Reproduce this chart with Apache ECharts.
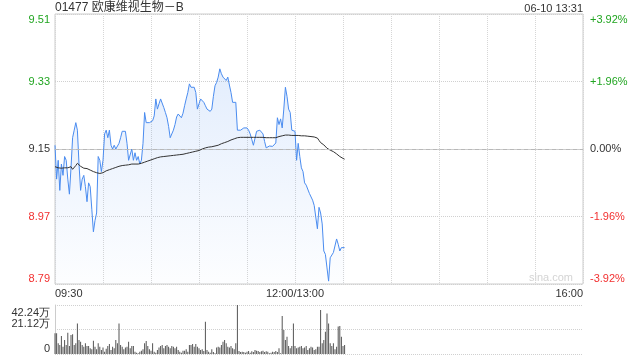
<!DOCTYPE html>
<html>
<head>
<meta charset="utf-8">
<script src="https://cdn.jsdelivr.net/npm/echarts@6/dist/echarts.min.js"></script>
<style>html,body{margin:0;padding:0;background:#fff}#c{width:640px;height:360px}</style>
</head>
<body>
<div id="c"></div>
<script>
const titleText = '01477 欧康维视生物－B';
const dateText = '06-10 13:31';
const prevClose = 9.15;
const priceTicks = ['8.79', '8.97', '9.15', '9.33', '9.51'];
const pctTicks = ['-3.92%', '-1.96%', '0.00%', '+1.96%', '+3.92%'];
const volTicks = ['0', '21.12万', '42.24万'];
const timeTickIdx = [0, 150, 330];
const timeTicks = ['09:30', '12:00/13:00', '16:00'];

const price = [
9.16,9.07,9.12,9.04,9.11,9.08,9.13,9.12,9.07,9.03,
9.10,9.18,9.20,9.22,9.20,9.11,9.04,9.07,9.08,9.05,
9.01,9.06,9.05,8.99,8.93,8.96,8.98,9.13,9.12,9.09,
9.12,9.19,9.20,9.18,9.20,9.16,9.15,9.16,9.15,9.15,
9.165,9.18,9.197,9.20,9.197,9.165,9.12,9.12,9.15,9.12,
9.14,9.12,9.13,9.11,9.12,9.165,9.247,9.22,9.22,9.22,
9.22,9.225,9.238,9.283,9.256,9.27,9.283,9.28,9.26,9.247,
9.233,9.21,9.18,9.185,9.20,9.215,9.235,9.243,9.238,9.233,
9.245,9.265,9.283,9.30,9.323,9.314,9.31,9.314,9.30,9.256,
9.27,9.283,9.287,9.274,9.265,9.256,9.26,9.25,9.256,9.29,
9.318,9.327,9.341,9.363,9.35,9.341,9.345,9.332,9.341,9.32,
9.30,9.274,9.27,9.274,9.20,9.20,9.20,9.20,9.206,9.21,
9.206,9.20,9.19,9.175,9.16,9.157,9.197,9.20,9.20,9.20,
9.19,9.17,9.153,9.157,9.158,9.157,9.157,9.153,9.166,9.233,
9.215,9.23,9.206,9.256,9.314,9.29,9.256,9.247,9.20,9.20,
9.197,9.12,9.165,9.13,9.10,9.09,9.06,9.054,9.05,9.032,
9.03,9.014,9.00,8.995,8.938,8.995,8.98,8.951,8.879,8.87,
8.834,8.799,8.861,8.866,8.875,8.877,8.911,8.897,8.879,8.888,
8.885,8.888
];

const avgPrice = [
9.103,9.100,9.100,9.100,9.099,9.099,9.100,9.100,9.100,9.100,
9.103,9.096,9.098,9.106,9.112,9.108,9.104,9.100,9.099,9.098,
9.098,9.096,9.094,9.092,9.090,9.088,9.087,9.086,9.085,9.086,
9.087,9.090,9.092,9.094,9.095,9.097,9.098,9.100,9.101,9.103,
9.104,9.105,9.106,9.106,9.107,9.108,9.108,9.109,9.110,9.110,
9.110,9.110,9.110,9.110,9.112,9.113,9.115,9.116,9.118,9.119,
9.121,9.122,9.124,9.125,9.127,9.128,9.129,9.130,9.130,9.131,
9.131,9.132,9.132,9.133,9.133,9.134,9.134,9.135,9.135,9.136,
9.136,9.137,9.138,9.139,9.140,9.141,9.142,9.143,9.144,9.145,
9.146,9.148,9.150,9.152,9.153,9.154,9.155,9.155,9.156,9.157,
9.158,9.159,9.160,9.162,9.164,9.166,9.167,9.168,9.170,9.172,
9.174,9.175,9.177,9.179,9.180,9.181,9.181,9.181,9.181,9.181,
9.181,9.181,9.181,9.181,9.181,9.181,9.181,9.181,9.181,9.181,
9.181,9.181,9.180,9.180,9.180,9.180,9.180,9.180,9.180,9.182,
9.183,9.184,9.185,9.186,9.187,9.187,9.187,9.187,9.186,9.186,
9.186,9.186,9.186,9.186,9.185,9.185,9.185,9.185,9.184,9.184,
9.183,9.183,9.182,9.181,9.179,9.173,9.167,9.164,9.161,9.157,
9.152,9.149,9.147,9.145,9.143,9.140,9.137,9.133,9.130,9.127,
9.125,9.123
];

// volume in 万
const volume = [
17.8,17.8,9.2,7.8,15.5,6.3,12.1,7.8,18.4,6.9,
16.4,17.0,7.8,9.2,26.4,12.1,10.6,7.8,6.3,9.2,
6.9,6.9,4.9,4.0,11.5,6.3,4.0,9.2,6.3,3.4,
5.7,2.0,4.6,6.9,8.6,3.4,6.3,4.9,12.1,9.2,
26.4,7.8,6.3,4.0,5.7,6.3,10.6,4.9,6.9,6.9,
2.0,1.1,0.6,2.0,2.9,4.0,9.2,11.2,6.9,4.0,
2.9,9.2,2.0,1.1,3.4,5.7,6.9,7.8,4.9,6.9,
7.8,6.3,4.9,6.9,6.3,4.9,6.3,3.4,2.0,1.1,
2.9,2.9,4.0,2.0,7.8,7.8,8.6,6.3,8.6,6.3,
4.9,3.4,4.0,2.6,27.9,3.4,2.0,1.1,4.0,1.7,
0.6,5.7,6.3,5.7,7.8,10.6,12.1,9.2,6.3,5.7,
6.9,4.9,4.0,9.2,42.24,2.6,1.7,2.0,1.7,1.1,
2.0,2.6,1.1,2.3,1.7,3.4,2.9,2.6,1.7,2.3,
2.9,1.7,2.3,2.0,0.6,1.1,2.0,1.7,2.6,1.7,
4.9,0.6,32.8,20.7,12.1,14.9,6.9,4.9,6.9,26.4,
6.9,4.9,5.7,6.3,6.9,4.9,5.7,6.9,3.4,4.9,
6.3,5.7,3.4,4.0,6.3,6.3,37.9,9.2,12.1,19.2,
35.0,26.4,9.2,6.9,9.2,4.0,6.3,23.6,24.1,14.9,
6.9,7.8
];

// minute categories: 09:30..12:00, 13:01..16:00
const times = [];
function pad(n){return (n<10?'0':'')+n;}
for (let t = 9*60+30; t <= 12*60; t++) times.push(pad(Math.floor(t/60))+':'+pad(t%60));
for (let t = 13*60+1; t <= 16*60; t++) times.push(pad(Math.floor(t/60))+':'+pad(t%60));

const pct = price.map(p => +((p / prevClose - 1) * 100).toFixed(4));
const avgPct = avgPrice.map(p => +((p / prevClose - 1) * 100).toFixed(4));

const PMIN = -3.92, PINT = 1.96;
const VMAX = 42.24, VINT = 21.12;
function tickIndex(v){ return Math.round((v - PMIN) / PINT); }
const styleKeys = ['rB', 'r', 'z', 'g', 'gT'];
const GREEN = '#21a521', RED = '#f23030', DARK = '#333';
const FONT = '"Liberation Sans", Arial, sans-serif';
const rich = {
  gT: {color: GREEN, fontSize: 11, fontFamily: FONT, padding: [11, 0, 0, 0]},
  g: {color: GREEN, fontSize: 11, fontFamily: FONT},
  z: {color: DARK, fontSize: 11, fontFamily: FONT},
  r: {color: RED, fontSize: 11, fontFamily: FONT},
  rB: {color: RED, fontSize: 11, fontFamily: FONT, padding: [0, 0, 11, 0]}
};

const chart = echarts.init(document.getElementById('c'), null, {renderer: 'canvas'});
chart.setOption({
  animation: false,
  backgroundColor: '#fff',
  title: [
    {text: titleText, left: 55, top: 2, padding: 0, textStyle: {fontSize: 12, fontWeight: 'normal', color: '#333', fontFamily: '"Liberation Sans", "Noto Sans CJK SC", sans-serif'}},
    {text: dateText, right: 57, top: 3, padding: 0, textStyle: {fontSize: 11, fontWeight: 'normal', color: '#333', fontFamily: FONT}}
  ],
  graphic: [
    {type: 'text', right: 67, top: 272, silent: true, style: {text: 'sina.com', fill: '#d4d4d4', font: '11px ' + FONT}}
  ],
  grid: [
    {left: 55, right: 57, top: 14, height: 270, show: true, borderColor: '#ccc', borderWidth: 1, backgroundColor: 'transparent'},
    {left: 55, right: 57, top: 305, height: 49}
  ],
  xAxis: [
    {
      type: 'category', gridIndex: 0, data: times, boundaryGap: false,
      axisLine: {show: true, lineStyle: {color: '#ccc'}},
      axisTick: {show: false},
      axisLabel: {
        interval: (i) => timeTickIdx.indexOf(i) >= 0,
        formatter: (v, i) => { const k = timeTickIdx.indexOf(i); return k >= 0 ? timeTicks[k] : ''; },
        color: '#333', fontSize: 11, fontFamily: FONT, margin: 4,
        alignMinLabel: 'left', alignMaxLabel: 'right'
      },
      splitLine: {show: true, interval: (i) => i % 30 === 0, lineStyle: {color: '#d6d6d6', type: 'dotted', width: 1}}
    },
    {
      type: 'category', gridIndex: 1, data: times, boundaryGap: false,
      axisLine: {show: false}, axisTick: {show: false}, axisLabel: {show: false}, splitLine: {show: false}
    }
  ],
  yAxis: [
    {
      type: 'value', gridIndex: 0, position: 'left', min: -3.92, max: 3.92, interval: 1.96,
      axisLine: {show: false}, axisTick: {show: false},
      axisLabel: {margin: 5, formatter: (v) => { const k = tickIndex(v); return '{' + styleKeys[k] + '|' + priceTicks[k] + '}'; }, rich: rich},
      splitLine: {show: true, lineStyle: {color: '#d0d0d0', type: 'dotted'}}
    },
    {
      type: 'value', gridIndex: 0, position: 'right', min: -3.92, max: 3.92, interval: 1.96,
      axisLine: {show: false}, axisTick: {show: false},
      axisLabel: {margin: 7, formatter: (v) => { const k = tickIndex(v); return '{' + styleKeys[k] + '|' + pctTicks[k] + '}'; }, rich: rich},
      splitLine: {show: false}
    },
    {
      type: 'value', gridIndex: 1, position: 'left', min: 0, max: VMAX, interval: VINT,
      axisLine: {show: true, lineStyle: {color: '#ccc'}}, axisTick: {show: false},
      axisLabel: {margin: 5, verticalAlign: 'bottom', color: DARK, fontSize: 11, fontFamily: FONT,
        formatter: (v) => { const k = Math.round(v / VINT); return k < 2 ? volTicks[k] : ''; }},
      splitLine: {show: true, lineStyle: {color: '#d0d0d0', type: 'dotted'}}
    },
    {
      type: 'value', gridIndex: 1, position: 'left', min: 0, max: VMAX, interval: VINT,
      axisLine: {show: false}, axisTick: {show: false}, splitLine: {show: false},
      axisLabel: {margin: 5, verticalAlign: 'top', padding: [2, 0, 0, 0], color: DARK, fontSize: 11, fontFamily: FONT,
        formatter: (v) => { const k = Math.round(v / VINT); return k === 2 ? volTicks[k] : ''; }}
    }
  ],
  series: [
    {
      type: 'line', name: 'price', xAxisIndex: 0, yAxisIndex: 0, data: pct,
      showSymbol: false, symbol: 'none', lineStyle: {color: '#4a8cf0', width: 1},
      areaStyle: {origin: 'start', color: new echarts.graphic.LinearGradient(0, 0, 0, 1, [
        {offset: 0, color: 'rgba(74,140,240,0.22)'},
        {offset: 1, color: 'rgba(74,140,240,0.02)'}
      ])},
      markLine: {silent: true, symbol: 'none', label: {show: false},
        lineStyle: {color: '#b8b8b8', type: [4, 3], width: 1},
        data: [{yAxis: 0}]},
      z: 3
    },
    {
      type: 'line', name: 'avg', xAxisIndex: 0, yAxisIndex: 0, data: avgPct,
      showSymbol: false, symbol: 'none', lineStyle: {color: '#333', width: 1}, z: 4
    },
    {
      type: 'bar', name: 'vol', xAxisIndex: 1, yAxisIndex: 2, data: volume,
      barWidth: 1, itemStyle: {color: '#555'}
    }
  ]
});
</script>
</body>
</html>
